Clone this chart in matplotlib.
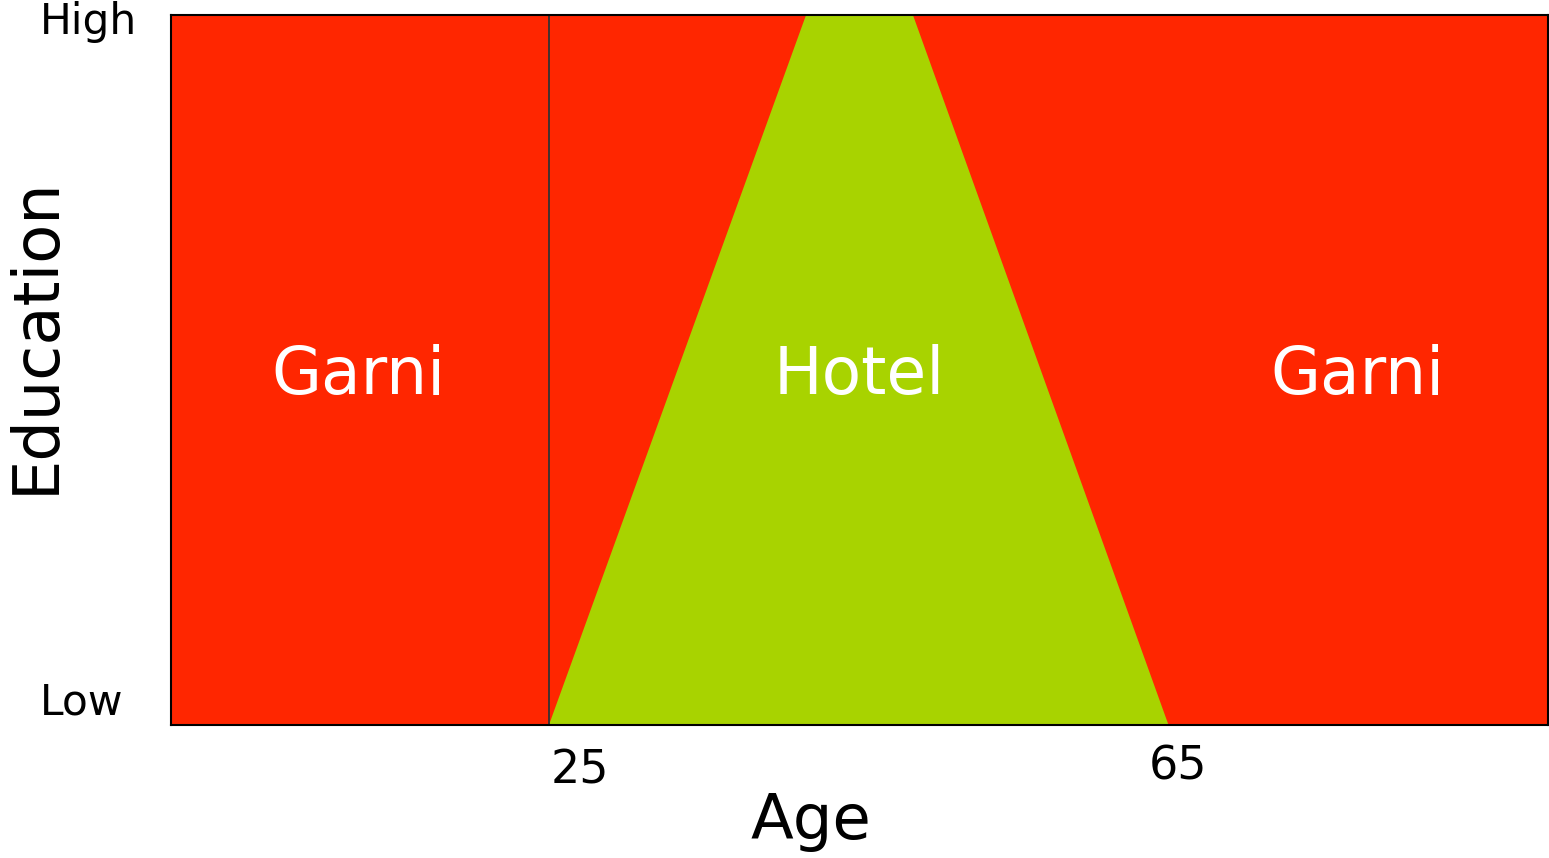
import numpy as np
import matplotlib.pyplot as plt
from matplotlib.patches import Polygon

# age axis (years) and education (0 = Low, 1 = High)
age_lim = (0.6, 89.5)
edu_lim = (0, 1)

# Hotel zone: trapezoid, wide at low education, narrow at high
hotel_low = (25, 65)
hotel_high = (41.6, 48.5)
split_age = 25

region_names = ['Garni', 'Hotel', 'Garni']
region_x = [12.7, 45, 77.2]

red = '#ff2600'
green = '#a8d300'

fig = plt.figure(figsize=(15.49, 8.58), dpi=100)
ax = fig.add_axes([171 / 1549, 133 / 858, 1377 / 1549, 710 / 858])
ax.set_xlim(*age_lim)
ax.set_ylim(*edu_lim)
ax.set_facecolor(red)

pts = [(hotel_low[0], 0), (hotel_high[0], 1), (hotel_high[1], 1), (hotel_low[1], 0)]
ax.add_patch(Polygon(pts, closed=True, facecolor=green, edgecolor='none'))
ax.axvline(split_age, color='#333333', lw=1.3)

for name, x in zip(region_names, region_x):
    ax.text(x, 0.491, name, color='white', fontsize=46.5, ha='center', va='center')

ax.set_xticks([])
ax.set_yticks([])
for s in ax.spines.values():
    s.set_linewidth(1.5)
    s.set_color('black')

trans = ax.get_xaxis_transform()
ax.text(25.1, -0.065, '25', fontsize=33, ha='left', va='center', transform=trans)
ax.text(65.6, -0.059, '65', fontsize=33, ha='center', va='center', transform=trans)
ax.text(41.9, -0.137, 'Age', fontsize=45, ha='center', va='center', transform=trans)

fig.text(0.023, 0.609, 'Education', fontsize=46, rotation=90, ha='center', va='center')
fig.text(0.0258, 0.974, 'High', fontsize=30.5, ha='left', va='center')
fig.text(0.0258, 0.181, 'Low', fontsize=30.5, ha='left', va='center')

fig.savefig('out.png', dpi=100)
